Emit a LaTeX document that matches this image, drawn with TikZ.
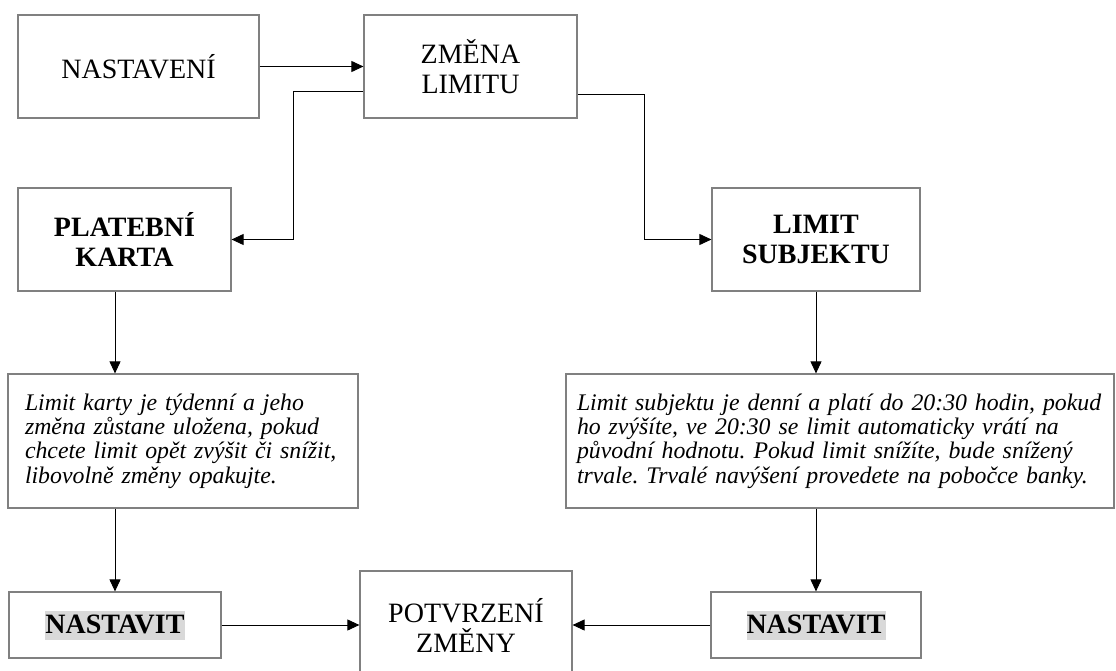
\documentclass[tikz,border=0pt]{standalone}
\usepackage{fontspec}
\setmainfont{Liberation Serif}
\usetikzlibrary{arrows.meta,positioning}
\frenchspacing
\definecolor{hlgray}{gray}{0.85}
\newcommand{\hl}[1]{{\setlength{\fboxsep}{0pt}\colorbox{hlgray}{\rule[-6pt]{0pt}{29pt}#1}}}
\tikzset{
	>={Triangle[length=12pt,width=11pt]},
	box/.style={draw=black!50,line width=1.2pt,rectangle,align=center,font=\fontsize{28}{30}\selectfont,minimum height=103pt},
	bold/.style={font=\fontsize{28}{30}\selectfont\bfseries},
	note/.style={draw=black!50,line width=1.2pt,rectangle,align=left,font=\fontsize{23.8}{24.2}\selectfont\itshape,minimum height=134pt}
}
\begin{document}
\begin{tikzpicture}[x=1pt,y=-1pt,line width=0.9pt]
			\useasboundingbox (0,0) rectangle (1116,671);
			\clip (0,0) rectangle (1116,671);
			\node[box,minimum width=241pt] (set) at (138.5,66.5) {NASTAVENÍ};
			\node[box,minimum width=213pt] (chg) at (470.5,66.5) {ZMĚNA\\LIMITU};
			\node[box,bold,minimum width=213pt] (card) at (124.5,239.5) {PLATEBNÍ\\KARTA};
			\node[box,bold,minimum width=208pt] (subj) at (816,239.5) {LIMIT\\SUBJEKTU};
			\node[note,text width=316pt,inner xsep=17pt] (ncard) at (183,441) {Limit karty je týdenní a jeho\\změna zůstane uložena, pokud\\chcete limit opět zvýšit či snížit,\\libovolně změny opakujte.};
			\node[note,text width=526pt,inner xsep=11pt] (nsubj) at (840,441) {Limit subjektu je denní a platí do 20:30 hodin, pokud\\ho zvýšíte, ve 20:30 se limit automaticky vrátí na\\původní hodnotu. Pokud limit snížíte, bude snížený\\trvale. Trvalé navýšení provedete na pobočce banky.};
			\node[box,bold,minimum width=212pt,minimum height=66pt] (okcard) at (115,625) {\hl{NASTAVIT}};
			\node[box,bold,minimum width=210pt,minimum height=66pt] (oksubj) at (816,625) {\hl{NASTAVIT}};
			\node[box,minimum width=212pt,minimum height=108pt] (conf) at (466,625) {POTVRZENÍ\\ZMĚNY};
			\node[coordinate] (schg) at (293,91) {};
			\node[coordinate] (ssub) at (644,94) {};
			
			\draw[->] (set) -- (chg);
			\draw[->] (schg -| chg.west) -- (schg) |- (card);
			\draw[->] (ssub -| chg.east) -- (ssub) |- (subj);
			\draw[->] (okcard |- card.south) -- (okcard |- ncard.north);
			\draw[->] (okcard |- ncard.south) -- (okcard);
			\draw[->] (subj) -- (subj |- nsubj.north);
			\draw[->] (subj |- nsubj.south) -- (oksubj);
			\draw[->] (okcard) -- (conf);
			\draw[->] (oksubj) -- (conf);
		\end{tikzpicture}
\end{document}
